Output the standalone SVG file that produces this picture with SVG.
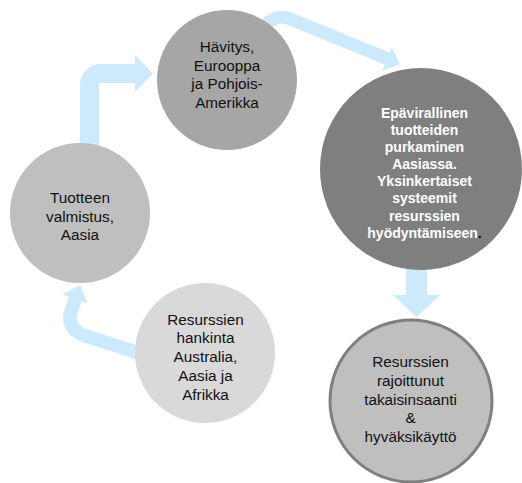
<svg xmlns="http://www.w3.org/2000/svg" width="522" height="483" viewBox="0 0 522 483">
  <style>
    .flow { fill: none; stroke: #cdeafc; }
    .head { fill: #cdeafc; }
    .lbl { font-family: "Liberation Sans", Arial, sans-serif; font-size: 15.3px; fill: #111; text-anchor: middle; }
    .lbl-w { font-family: "Liberation Sans", Arial, sans-serif; font-size: 14px; font-weight: bold; fill: #fff; text-anchor: middle; }
  </style>
  <rect width="522" height="483" fill="#fff"/>

  <!-- connectors drawn first so the circles sit on top of the shaft ends -->
  <g id="connectors">
    <!-- manufacturing -> disposal -->
    <path class="flow" stroke-width="19" d="M 89.5 160 L 89.5 84.5 A 11 11 0 0 1 100.5 73.5 L 136 73.5"/>
    <polygon class="head" points="135,55 153,73.5 135,92"/>
    <!-- disposal -> informal dismantling -->
    <path class="flow" stroke-width="13" d="M 258 36 Q 272 10 293 20 L 388 59"/>
    <polygon class="head" points="391.9,47 400,64.3 382.1,71"/>
    <!-- informal dismantling -> limited recovery -->
    <path class="flow" stroke-width="21" d="M 416.5 255 L 416.5 296"/>
    <polygon class="head" points="393,295 440,295 416.5,317"/>
    <!-- resource acquisition -> manufacturing -->
    <path class="flow" stroke-width="13.5" d="M 142 354 L 86 336 Q 68 330 70 315 L 75.5 298"/>
    <polygon class="head" points="87.7,303.5 80,284.9 62.3,294.5"/>
  </g>

  <g id="node-havitys">
    <circle cx="227" cy="80" r="70" fill="#a6a6a6"/>
    <text class="lbl" x="227" y="51.5">Hävitys,</text>
    <text class="lbl" x="227" y="70.5">Eurooppa</text>
    <text class="lbl" x="227" y="89">ja Pohjois-</text>
    <text class="lbl" x="227" y="107.5">Amerikka</text>
  </g>

  <g id="node-purkaminen">
    <circle cx="421" cy="169" r="101" fill="#7f7f7f"/>
    <text class="lbl-w" x="424.5" y="118">Epävirallinen</text>
    <text class="lbl-w" x="424.5" y="135">tuotteiden</text>
    <text class="lbl-w" x="424.5" y="152">purkaminen</text>
    <text class="lbl-w" x="424.5" y="169">Aasiassa.</text>
    <text class="lbl-w" x="424.5" y="186">Yksinkertaiset</text>
    <text class="lbl-w" x="424.5" y="203">systeemit</text>
    <text class="lbl-w" x="424.5" y="221">resurssien</text>
    <text class="lbl-w" x="424.5" y="238">hyödyntämiseen<tspan fill="#000">.</tspan></text>
  </g>

  <g id="node-valmistus">
    <circle cx="80" cy="213" r="70" fill="#bfbfbf"/>
    <text class="lbl" x="80" y="202.5">Tuotteen</text>
    <text class="lbl" x="80" y="221.5">valmistus,</text>
    <text class="lbl" x="80" y="240">Aasia</text>
  </g>

  <g id="node-hankinta">
    <circle cx="205" cy="353" r="70" fill="#d9d9d9"/>
    <text class="lbl" x="205.5" y="324.5">Resurssien</text>
    <text class="lbl" x="205.5" y="343">hankinta</text>
    <text class="lbl" x="205.5" y="362">Australia,</text>
    <text class="lbl" x="205.5" y="380.5">Aasia ja</text>
    <text class="lbl" x="205.5" y="399.5">Afrikka</text>
  </g>

  <g id="node-takaisinsaanti">
    <circle cx="411" cy="401" r="81" fill="#bfbfbf" stroke="#7f7f7f" stroke-width="3"/>
    <text class="lbl" x="410.5" y="366.5">Resurssien</text>
    <text class="lbl" x="410.5" y="385.5">rajoittunut</text>
    <text class="lbl" x="410.5" y="404.5">takaisinsaanti</text>
    <text class="lbl" x="410.5" y="423">&amp;</text>
    <text class="lbl" x="410.5" y="441.5">hyväksikäyttö</text>
  </g>
</svg>
